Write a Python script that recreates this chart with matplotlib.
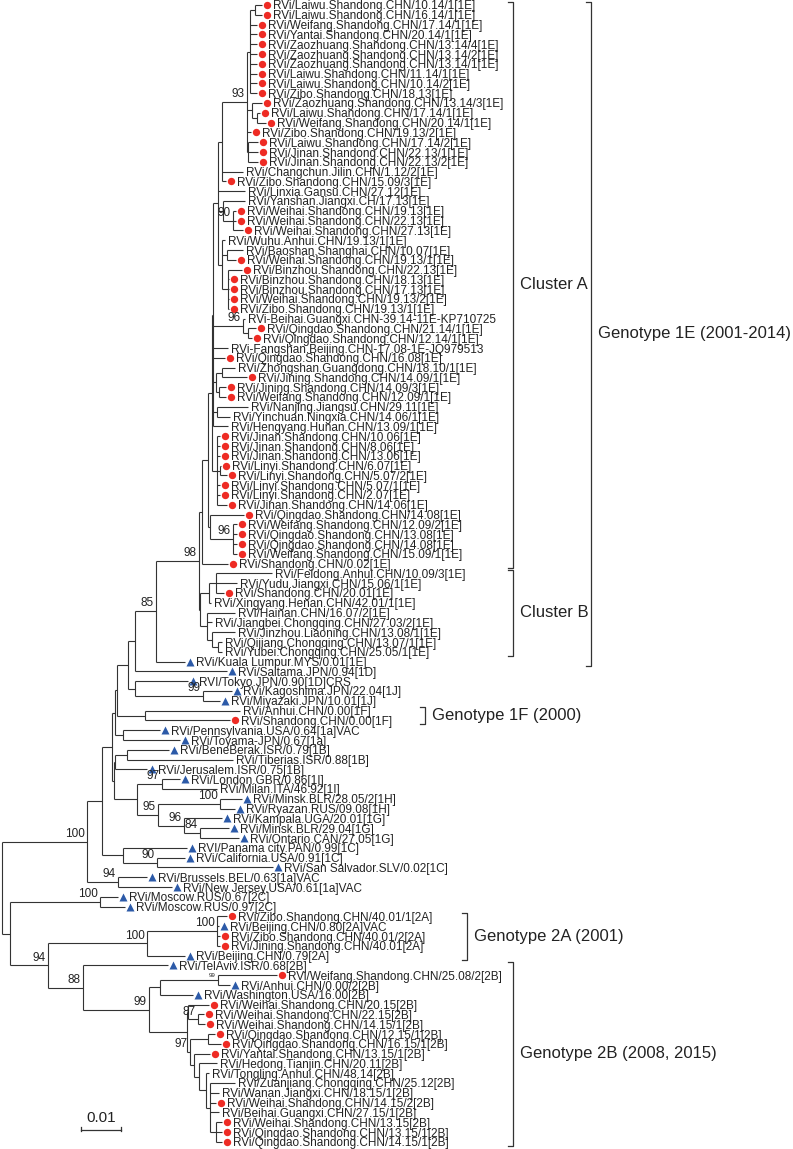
import matplotlib
matplotlib.use("Agg")
import matplotlib.pyplot as plt
from matplotlib.collections import LineCollection
from matplotlib.transforms import offset_copy, blended_transform_factory

plt.rcParams['font.family'] = ['Liberation Sans', 'DejaVu Sans']

# tree: leaves are 1-based numbers into leaf_labels, branch lengths in 0.001 subst/site,
# internal node labels are bootstrap values (a trailing * = printed very small)
tree_newick = """
(((((((((((((((((((1:1.75,2:1.75):1.25,3:1.75,4:1.75,5:1.75,6:1.75,7:1.75,8:1.75,9:1.75,10:1.75):0.75,
(11:2.5,(12:0.75,13:2.25):1.25):1.25,14:1,(15:2.5,16:2.5,17:2.5):0.25)93:6.25,18:5.25,19:1):1,20:6.75,
(21:5.5,(22:0.75,23:0.75,24:2.5)90:2.5):1.25,
(25:0.75,(26:4,27:2.25):1.25,(28:3.5,29:0.25,30:0.25,31:0.25,32:0.25):1.5):1):1.25,
(33:0.5,(34:2,35:1):1.25)96:7.5,36:3.75,37:3,((38:3.25,39:6.25):1.5,(40:1.75,41:1.75):0.75):0.75,
(42:7.75,43:3.25):1,44:3.75):0.25,
(45:0.75,46:0.75,47:0.75,(48:0.25,49:1.75):0.75,50:0.75,51:0.75,52:2.5):1.25):1,
(53:8.5,(54:1,55:1,56:1,57:1)96:5.75):0.5):1.5,58:6.5):0.75,
(((59:14,60:5.25,61:2):1.75,62:0.5):2.25,(63:7,64:1.25,(65:5.75,(66:1,67:1):1.5):1.25):1.75):0.25)98:10.75,
68:7.25)85:5.25,69:23):1.75,
(70:13.25,(71:7.25,72:4.25)99:17):1.75):2.75,
(73:23.75,74:21.25):7):0.5,
(75:9.25,76:14.25):2):0.75,
(((77:10.5,78:26.5):3,79:8):0.25,
((80:4.5,81:13.75)97:6.25,((82:5.5,83:3.75)100:15.5,(84:9.5,(85:7.25,86:9.75)84:4)96:6.5)95:5.25):5.75):0.5):2.5,
(87:16,(88:7,89:29)90:8.5):5.25):3.75,
(90:7.25,91:13.5)94:7.75)100:21.25,
((92:4.5,93:6.25)100:22.5,
(((94:2.5,95:0.5,96:0.75,97:0.75)100:17.5,98:9.5)100:24.75,
(99:21.25,(((100:14.75,101:3)99*:14.5,102:8.25):2.75,
((103:5.25,(104:1.5,105:1.75)87:2.5):0.25,
((106:1.75,107:3.25):4.5,(108:4,(109:4.5,(110:0.75,(111:6.25,112:2.25,113:1.5,114:2.25,
(115:1.5,116:1.5,117:1.5):1.5):1):1.75):1.25):1)97:0.75):9.5)99:16.5)88:8.75)94:9.5):2);
"""

leaf_labels = [
    "RVi/Laiwu.Shandong.CHN/10.14/1[1E]", "RVi/Laiwu.Shandong.CHN/16.14/1[1E]",
    "RVi/Weifang.Shandong.CHN/17.14/1[1E]", "RVi/Yantai.Shandong.CHN/20.14/1[1E]",
    "RVi/Zaozhuang.Shandong.CHN/13.14/4[1E]", "RVi/Zaozhuang.Shandong.CHN/13.14/2[1E]",
    "RVi/Zaozhuang.Shandong.CHN/13.14/1[1E]", "RVi/Laiwu.Shandong.CHN/11.14/1[1E]",
    "RVi/Laiwu.Shandong.CHN/10.14/2[1E]", "RVi/Zibo.Shandong.CHN/18.13[1E]",
    "RVi/Zaozhuang.Shandong.CHN/13.14/3[1E]", "RVi/Laiwu.Shandong.CHN/17.14/1[1E]",
    "RVi/Weifang.Shandong.CHN/20.14/1[1E]", "RVi/Zibo.Shandong.CHN/19.13/2[1E]",
    "RVi/Laiwu.Shandong.CHN/17.14/2[1E]", "RVi/Jinan.Shandong.CHN/22.13/1[1E]",
    "RVi/Jinan.Shandong.CHN/22.13/2[1E]", "RVi/Changchun.Jilin.CHN/1.12/2[1E]",
    "RVi/Zibo.Shandong.CHN/15.09/3[1E]", "RVi/Linxia.Gansu.CHN/27.12[1E]",
    "RVi/Yanshan.Jiangxi.CH/17.13[1E]", "RVi/Weihai.Shandong.CHN/19.13[1E]",
    "RVi/Weihai.Shandong.CHN/22.13[1E]", "RVi/Weihai.Shandong.CHN/27.13[1E]",
    "RVi/Wuhu.Anhui.CHN/19.13/1[1E]", "RVi/Baoshan.Shanghai.CHN/10.07[1E]",
    "RVi/Weihai.Shandong.CHN/19.13/1[1E]", "RVi/Binzhou.Shandong.CHN/22.13[1E]",
    "RVi/Binzhou.Shandong.CHN/18.13[1E]", "RVi/Binzhou.Shandong.CHN/17.13[1E]",
    "RVi/Weihai.Shandong.CHN/19.13/2[1E]", "RVi/Zibo.Shandong.CHN/19.13/1[1E]",
    "RVi-Beihai.Guangxi.CHN-39.14-11E-KP710725", "RVi/Qingdao.Shandong.CHN/21.14/1[1E]",
    "RVi/Qingdao.Shandong.CHN/12.14/1[1E]", "RVi-Fangshan.Beijing.CHN-17.08-1E-JQ979513",
    "RVi/Qingdao.Shandong.CHN/16.08[1E]", "RVi/Zhongshan.Guangdong.CHN/18.10/1[1E]",
    "RVi/Jining.Shandong.CHN/14.09/1[1E]", "RVi/Jining.Shandong.CHN/14.09/3[1E]",
    "RVi/Weifang.Shandong.CHN/12.09/1[1E]", "RVi/Nanjing.Jiangsu.CHN/29.11[1E]",
    "RVi/Yinchuan.Ningxia.CHN/14.06/1[1E]", "RVi/Hengyang.Hunan.CHN/13.09/1[1E]",
    "RVi/Jinan.Shandong.CHN/10.06[1E]", "RVi/Jinan.Shandong.CHN/8.06[1E]",
    "RVi/Jinan.Shandong.CHN/13.06[1E]", "RVi/Linyi.Shandong.CHN/6.07[1E]",
    "RVi/Linyi.Shandong.CHN/5.07/2[1E]", "RVi/Linyi.Shandong.CHN/5.07/1[1E]",
    "RVi/Linyi.Shandong.CHN/2.07[1E]", "RVi/Jinan.Shandong.CHN/14.06[1E]",
    "RVi/Qingdao.Shandong.CHN/14.08[1E]", "RVi/Weifang.Shandong.CHN/12.09/2[1E]",
    "RVi/Qingdao.Shandong.CHN/13.08[1E]", "RVi/Qingdao.Shandong.CHN/14.08[1E]",
    "RVi/Weifang.Shandong.CHN/15.09/1[1E]", "RVi/Shandong.CHN/0.02[1E]",
    "RVi/Feidong.Anhui.CHN/10.09/3[1E]", "RVi/Yudu.Jiangxi.CHN/15.06/1[1E]",
    "RVi/Shandong.CHN/20.01[1E]", "RVi/Xingyang.Henan.CHN/42.01/1[1E]",
    "RVi/Hainan.CHN/16.07/2[1E]", "RVi/Jiangbei.Chongqing.CHN/27.03/2[1E]",
    "RVi/Jinzhou.Liaoning.CHN/13.08/1[1E]", "RVi/Qijiang.Chongqing.CHN/13.07/1[1E]",
    "RVi/Yubei.Chongqing.CHN/25.05/1[1E]", "RVi/Kuala Lumpur.MYS/0.01[1E]",
    "RVi/Saitama.JPN/0.94[1D]", "RVI/Tokyo.JPN/0.90[1D]CRS",
    "RVi/Kagoshima.JPN/22.04[1J]", "RVi/Miyazaki.JPN/10.01[1J]",
    "RVi/Anhui.CHN/0.00[1F]", "RVi/Shandong.CHN/0.00[1F]",
    "RVi/Pennsylvania.USA/0.64[1a]VAC", "RVi/Toyama-JPN/0.67[1a]",
    "RVi/BeneBerak.ISR/0.79[1B]", "RVi/Tiberias.ISR/0.88[1B]",
    "RVi/Jerusalem.ISR/0.75[1B]", "RVi/London.GBR/0.86[1I]",
    "RVi/Milan.ITA/46.92[1I]", "RVi/Minsk.BLR/28.05/2[1H]",
    "RVi/Ryazan.RUS/09.08[1H]", "RVi/Kampala.UGA/20.01[1G]",
    "RVi/Minsk.BLR/29.04[1G]", "RVi/Ontario.CAN/27.05[1G]",
    "RVI/Panama city.PAN/0.99[1C]", "RVi/California.USA/0.91[1C]",
    "RVi/San Salvador.SLV/0.02[1C]", "RVi/Brussels.BEL/0.63[1a]VAC",
    "RVi/New Jersey.USA/0.61[1a]VAC", "RVi/Moscow.RUS/0.67[2C]",
    "RVi/Moscow.RUS/0.97[2C]", "RVi/Zibo.Shandong.CHN/40.01/1[2A]",
    "RVi/Beijing.CHN/0.80[2A]VAC", "RVi/Zibo.Shandong.CHN/40.01/2[2A]",
    "RVi/Jining.Shandong.CHN/40.01[2A]", "RVi/Beijing.CHN/0.79[2A]",
    "RVi/TelAviv.ISR/0.68[2B]", "RVi/Weifang.Shandong.CHN/25.08/2[2B]",
    "RVi/Anhui.CHN/0.00/2[2B]", "RVi/Washington.USA/16.00[2B]",
    "RVi/Weihai.Shandong.CHN/20.15[2B]", "RVi/Weihai.Shandong.CHN/22.15[2B]",
    "RVi/Weihai.Shandong.CHN/14.15/1[2B]", "RVi/Qingdao.Shandong.CHN/12.15/1[2B]",
    "RVi/Qingdao.Shandong.CHN/16.15/1[2B]", "RVi/Yantai.Shandong.CHN/13.15/1[2B]",
    "RVi/Hedong.Tianjin.CHN/20.11[2B]", "RVi/Tongling.Anhui.CHN/48.14[2B]",
    "RVi/Zuanjiang.Chongqing.CHN/25.12[2B]", "RVi/Wanan.Jiangxi.CHN/18.15/1[2B]",
    "RVi/Weihai.Shandong.CHN/14.15/2[2B]", "RVi/Beihai.Guangxi.CHN/27.15/1[2B]",
    "RVi/Weihai.Shandong.CHN/13.15[2B]", "RVi/Qingdao.Shandong.CHN/13.15/1[2B]",
    "RVi/Qingdao.Shandong.CHN/14.15/1[2B]",
]

# r = red circle, b = blue triangle, - = no symbol
leaf_marks = list("rrrrrrrrrrrrrrrrr-r--rrr--rrrrrr-rr-r-rrr---rrrrrrrrrrrrrr--r------"
                  "bbbbb-rbbb-bb-bbbbbbbbbbbbrbrrbbrbbrrrrrr----r-rrr")

group_names = ["Cluster A", "Cluster B", "Genotype 1E (2001-2014)", "Genotype 1F (2000)",
               "Genotype 2A (2001)", "Genotype 2B (2008, 2015)"]
group_first = [1, 59, 1, 73, 94, 99]
group_last = [58, 67, 68, 74, 98, 117]

scale_value = 0.01
assert len(leaf_labels) == 117 and len(leaf_marks) == 117


def parse_newick(s):
    s = "".join(s.split())
    pos = 0

    def node():
        nonlocal pos
        kids = []
        if s[pos] == '(':
            pos += 1
            kids.append(node())
            while s[pos] == ',':
                pos += 1
                kids.append(node())
            pos += 1
        start = pos
        while s[pos] not in ':,();':
            pos += 1
        name = s[start:pos]
        length = 0.0
        if s[pos] == ':':
            pos += 1
            start = pos
            while s[pos] not in ',();':
                pos += 1
            length = float(s[start:pos])
        return {'name': name, 'len': length * 0.001, 'kids': kids}

    return node()


def layout(n, x0, leaves):
    n['x'] = x0 + n['len']
    if n['kids']:
        for k in n['kids']:
            layout(k, n['x'], leaves)
        n['y'] = (n['kids'][0]['y'] + n['kids'][-1]['y']) / 2
    else:
        n['y'] = len(leaves)
        leaves.append(n)


root = parse_newick(tree_newick)
leaves = []
layout(root, 0.0, leaves)

W, H = 793, 1149
fig = plt.figure(figsize=(W / 100, H / 100), dpi=100)
ax = fig.add_axes([0, 0, 1, 1])
ax.axis('off')
px_x = 0.01 / 40.0       # one pixel in substitution units
px_y = 1 / 9.8           # one pixel in leaf rows
ax.set_xlim(-2 * px_x, (W - 2) * px_x)
ax.set_ylim((H - 5) * px_y, -5 * px_y)

line_col = '#333333'
txt_col = '#222222'
segs = []
boots = []


def collect(n):
    if not n['kids']:
        return
    segs.append([(n['x'], n['kids'][0]['y']), (n['x'], n['kids'][-1]['y'])])
    for k in n['kids']:
        segs.append([(n['x'], k['y']), (k['x'], k['y'])])
        collect(k)
        if k['kids'] and k['name']:
            boots.append((k['x'], k['y'], k['name']))


collect(root)
ax.add_collection(LineCollection(segs, colors=line_col, linewidths=0.8))

boot_tr = offset_copy(ax.transData, fig=fig, x=-1.5, y=1.2, units='points')
for bx, by, txt in boots:
    small = txt.endswith('*')
    ax.text(bx, by, txt.rstrip('*'), transform=boot_tr, ha='right', va='bottom',
            fontsize=4.5 if small else 8.5, color=txt_col)

mark_tr = offset_copy(ax.transData, fig=fig, x=3.8, y=0, units='points')
txt_tr_m = offset_copy(ax.transData, fig=fig, x=8.0, y=0, units='points')
txt_tr_n = offset_copy(ax.transData, fig=fig, x=2.4, y=0, units='points')
for lf in leaves:
    i = int(lf['name']) - 1
    m = leaf_marks[i]
    if m == 'r':
        ax.plot(lf['x'], lf['y'], 'o', ms=5.3, color='#ee2b24', mec='none', transform=mark_tr)
    elif m == 'b':
        ax.plot(lf['x'], lf['y'], '^', ms=6.0, color='#2c5aa8', mec='none', transform=mark_tr)
    ax.text(lf['x'], lf['y'], leaf_labels[i], transform=txt_tr_m if m != '-' else txt_tr_n,
            ha='left', va='center_baseline', fontsize=8.5, color=txt_col)

# group brackets (x in figure fraction, y in leaf rows)
bt = blended_transform_factory(ax.transAxes, ax.transData)
bracket_x = [513, 513, 591, 425, 467, 513]
tick = 5 / W
for name, f, l, bxp in zip(group_names, group_first, group_last, bracket_x):
    bx = bxp / W
    y0, y1 = f - 1 - 0.35, l - 1 + 0.4
    ax.plot([bx - tick, bx, bx, bx - tick], [y0, y0, y1, y1], color=line_col, lw=0.9, transform=bt)
    ax.text(bx + 7 / W, (y0 + y1) / 2, name, transform=bt, ha='left', va='center',
            fontsize=12, color=txt_col)

# scale bar
sx0 = 79 * px_x
sy = (1130 - 5) * px_y
ax.plot([sx0, sx0 + scale_value], [sy, sy], color=line_col, lw=0.9)
ax.plot([sx0, sx0], [sy - 3.5 * px_y, sy + 1 * px_y], color=line_col, lw=0.9)
ax.plot([sx0 + scale_value] * 2, [sy - 3.5 * px_y, sy + 1 * px_y], color=line_col, lw=0.9)
ax.text(sx0 + scale_value / 2, sy - 5 * px_y, "0.01", ha='center', va='bottom', fontsize=11, color=txt_col)

fig.savefig("out.png", dpi=100)
